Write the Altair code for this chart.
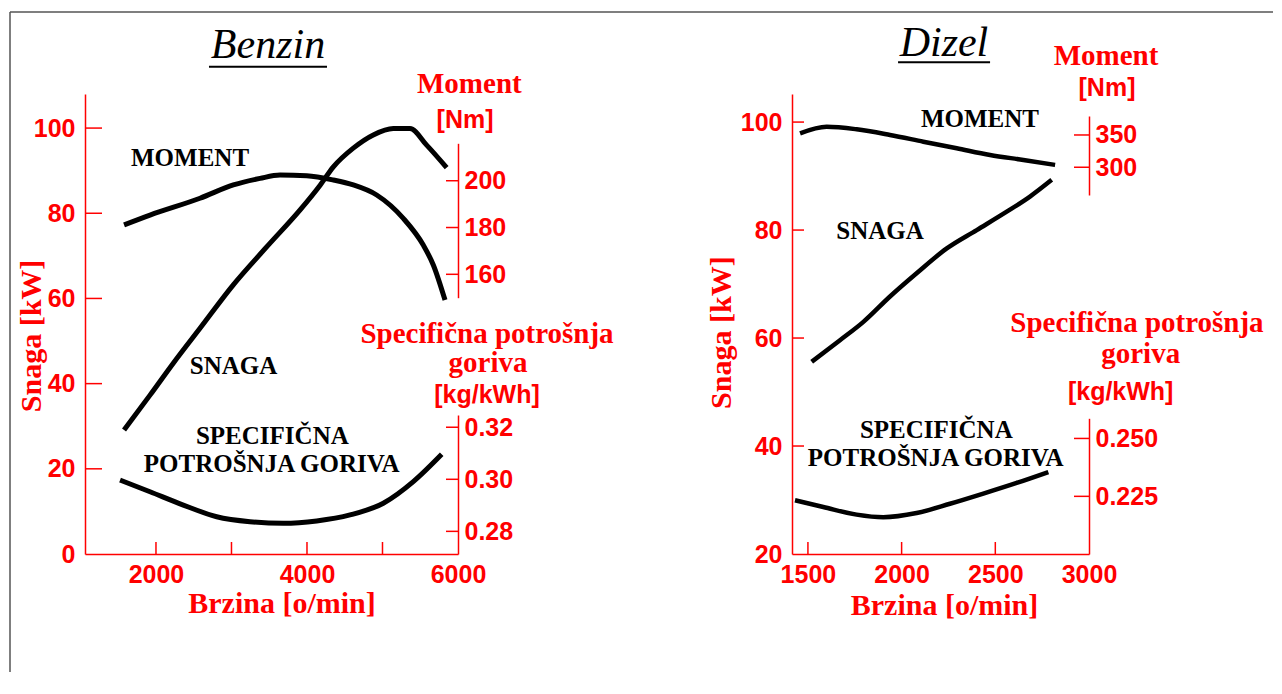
import altair as alt
import pandas as pd

# ======================= DATA =======================
# ---- Benzin (petrol engine) ----
b_snaga_rpm = [1577, 1921, 2229, 2583, 3024, 3466, 3909, 4174, 4349, 4613, 4878, 5143, 5364, 5585, 5850]
b_snaga_kw = [29.1, 37.3, 44.8, 53.0, 63.2, 72.1, 80.8, 86.6, 90.9, 95.3, 98.4, 99.9, 99.9, 96.0, 90.7]
b_moment_rpm = [1577, 1921, 2583, 3024, 3378, 3643, 3996, 4349, 4613, 4923, 5276, 5540, 5673, 5828]
b_moment_nm = [181.1, 185.3, 192.5, 198.2, 201.0, 202.4, 202.1, 200.3, 198.2, 193.9, 183.9, 172.5, 164.0, 149.0]
b_bsfc_rpm = [1524, 1921, 2362, 2804, 3245, 3686, 4129, 4570, 5011, 5408, 5784]
b_bsfc_val = [0.2997, 0.2952, 0.2901, 0.2856, 0.2837, 0.2831, 0.2840, 0.2863, 0.2908, 0.2991, 0.3096]

# ---- Dizel (diesel engine) ----
d_snaga_rpm = [1520, 1671, 1796, 1938, 2080, 2241, 2401, 2561, 2685, 2801]
d_snaga_kw = [55.6, 59.6, 63.0, 67.7, 72.0, 76.6, 80.0, 83.4, 86.2, 89.3]
d_moment_rpm = [1458, 1600, 1760, 1938, 2116, 2294, 2472, 2650, 2819]
d_moment_nm = [352.6, 362.8, 358.8, 350.0, 339.6, 329.4, 319.0, 311.3, 303.6]
d_bsfc_rpm = [1431, 1582, 1760, 1902, 2080, 2258, 2436, 2614, 2783]
d_bsfc_val = [0.2233, 0.2204, 0.2171, 0.2160, 0.2178, 0.2218, 0.2262, 0.2308, 0.2355]

# ---- axis tick values / labels ----
b_rpm_labels = [2000, 4000, 6000]
b_rpm_ticks = [2000, 3000, 4000, 5000]
b_kw_labels = [0, 20, 40, 60, 80, 100]
b_kw_ticks = [20, 40, 60, 80, 100]
b_nm_ticks = [160, 180, 200]
b_bsfc_ticks = [0.28, 0.30, 0.32]

d_rpm_labels = [1500, 2000, 2500, 3000]
d_rpm_ticks = [1500, 2000, 2500]
d_kw_labels = [20, 40, 60, 80, 100]
d_kw_ticks = [40, 60, 80, 100]
d_nm_ticks = [300, 350]
d_bsfc_ticks = [0.225, 0.250]

# ---- annotations (anchored in rpm / kW of each panel) ----
curve_names = ["MOMENT", "SNAGA", "SPECIFIČNA", "POTROŠNJA GORIVA"]
b_curve_rpm = [2451, 3027, 3541, 3533]
b_curve_kw = [91.2, 42.2, 25.8, 19.3]
d_curve_rpm = [2418, 1885, 2185, 2182]
d_curve_kw = [99.0, 78.3, 41.4, 36.3]

axis_heads = ["Moment", "Specifična potrošnja", "goriva"]
b_head_rpm = [6150, 6384, 6397]
b_head_kw = [108.2, 49.5, 42.7]
d_head_rpm = [3091, 3256, 3276]
d_head_kw = [110.6, 61.2, 55.3]

axis_units = ["[Nm]", "[kg/kWh]"]
b_unit_rpm = [6093, 6384]
b_unit_kw = [100.0, 35.5]
d_unit_rpm = [3096, 3169]
d_unit_kw = [104.8, 48.5]

x_title, y_title = "Brzina [o/min]", "Snaga [kW]"
b_xtitle_rpm, b_xtitle_kw = 3669, -13.85
b_ytitle_rpm, b_ytitle_kw = 361, 51.2
d_xtitle_rpm, d_xtitle_kw = 2229, 8.7
d_ytitle_rpm, d_ytitle_kw = 1041, 61.0

b_title, b_title_rpm, b_title_kw = "Benzin", 3484, 116.45
b_uline_rpm, b_uline_kw = [2702, 4265], 114.4
d_title, d_title_rpm, d_title_kw = "Dizel", 2226, 112.2
d_uline_rpm, d_uline_kw = [1981, 2472], 111.1

# ======================= STYLE =======================
RED = "#ff0000"
SERIF = "Liberation Serif"
SANS = "Liberation Sans"
W, H = 1004, 460


def sc(domain, rng):
    return alt.Scale(domain=domain, range=rng, zero=False, nice=False)


bx = sc([1060, 6000], [0, 373])
bs = sc([0, 108], [H, 0])
bm = sc([150, 216], [203.7, 49.3])
bf = sc([0.2713, 0.3247], [H, 321])
dx = sc([1415, 3000], [707, 1004])
ds = sc([20, 105.2], [H, 0])
dm = sc([257, 379.4], [101, 22])
dfs = sc([0.2001, 0.2587], [H, 324.3])

BASE = dict(labelColor=RED, labelFont=SANS, labelFontSize=25, labelFontWeight="bold",
            domain=True, domainColor=RED, domainWidth=1.5, domainOpacity=1,
            ticks=False, grid=False, labels=True,
            labelFlush=False, labelOverlap=False, title="")


def xaxis(values):
    return alt.Axis(orient="bottom", values=values, format="d", labelPadding=8, **BASE)


def saxis(values, offset):
    return alt.Axis(orient="left", values=values, format="d", labelPadding=10, offset=offset, **BASE)


def raxis(values, fmt, offset):
    return alt.Axis(orient="right", values=values, format=fmt, labelPadding=6, offset=offset, **BASE)


def line(xs, ys, sx, sy, width, ax_x=None, ax_y=None):
    data = pd.DataFrame({"rpm": xs, "v": ys})
    return alt.Chart(data).mark_line(color="black", strokeWidth=width, strokeJoin="round",
                                     interpolate="monotone").encode(
        x=alt.X("rpm:Q", scale=sx, axis=ax_x),
        y=alt.Y("v:Q", scale=sy, axis=ax_y),
    )


def ticks(xs, ys, sx, sy, orient, size, xoff=0, yoff=0):
    data = pd.DataFrame({"rpm": xs, "v": ys})
    return alt.Chart(data).mark_tick(orient=orient, size=size, thickness=1.5, color=RED,
                                     xOffset=xoff, yOffset=yoff, opacity=1).encode(
        x=alt.X("rpm:Q", scale=sx, axis=None),
        y=alt.Y("v:Q", scale=sy, axis=None),
    )


def texts(labels, xs, ys, sx, sy, font, size, color, weight="bold", style="normal",
          angle=0, baseline="alphabetic"):
    data = pd.DataFrame({"label": labels, "rpm": xs, "v": ys})
    return alt.Chart(data).mark_text(font=font, fontSize=size, fontWeight=weight, fontStyle=style,
                                     color=color, align="center", baseline=baseline,
                                     angle=angle).encode(
        x=alt.X("rpm:Q", scale=sx, axis=None),
        y=alt.Y("v:Q", scale=sy, axis=None),
        text="label:N",
    )


def underline(xs, yv, sx, sy):
    data = pd.DataFrame({"x0": [xs[0]], "x1": [xs[1]], "v": [yv]})
    return alt.Chart(data).mark_rule(color="black", strokeWidth=2).encode(
        x=alt.X("x0:Q", scale=sx, axis=None), x2="x1:Q",
        y=alt.Y("v:Q", scale=sy, axis=None),
    )


def panel(sx, ss, sm, sf, snaga, moment, bsfc, rpm_labels, rpm_ticks, kw_labels, kw_ticks,
          nm_ticks, bsfc_ticks, bsfc_fmt, left_off, right_off, lt_len, rt_len, lw,
          curve, head, unit, xt, yt, title, uline):
    xmin, xmax = sx.domain[0], sx.domain[1]
    ymin = ss.domain[0]
    return [
        line(snaga[0], snaga[1], sx, ss, lw, xaxis(rpm_labels), saxis(kw_labels, left_off)),
        line(moment[0], moment[1], sx, sm, lw, None, raxis(nm_ticks, "d", right_off)),
        line(bsfc[0], bsfc[1], sx, sf, lw, None, raxis(bsfc_ticks, bsfc_fmt, right_off)),
        ticks([xmin] * len(kw_ticks), kw_ticks, sx, ss, "horizontal", lt_len, xoff=lt_len / 2),
        ticks(rpm_ticks, [ymin] * len(rpm_ticks), sx, ss, "vertical", 12, yoff=-6),
        ticks([xmax] * len(nm_ticks), nm_ticks, sx, sm, "horizontal", rt_len, xoff=-rt_len / 2),
        ticks([xmax] * len(bsfc_ticks), bsfc_ticks, sx, sf, "horizontal", rt_len, xoff=-rt_len / 2),
        texts(curve_names, curve[0], curve[1], sx, ss, SERIF, 25, "black"),
        texts(axis_heads, head[0], head[1], sx, ss, SERIF, 29, RED),
        texts(axis_units, unit[0], unit[1], sx, ss, SANS, 25, RED),
        texts([x_title], [xt[0]], [xt[1]], sx, ss, SERIF, 30, RED),
        texts([y_title], [yt[0]], [yt[1]], sx, ss, SERIF, 30, RED, angle=270, baseline="middle"),
        texts([title[0]], [title[1]], [title[2]], sx, ss, SERIF, 42, "black", weight="normal", style="italic"),
        underline(uline[0], uline[1], sx, ss),
    ]


benzin = panel(bx, bs, bm, bf,
               (b_snaga_rpm, b_snaga_kw), (b_moment_rpm, b_moment_nm), (b_bsfc_rpm, b_bsfc_val),
               b_rpm_labels, b_rpm_ticks, b_kw_labels, b_kw_ticks, b_nm_ticks, b_bsfc_ticks, ".2f",
               0, 373 - W, 17, 12, 5,
               (b_curve_rpm, b_curve_kw), (b_head_rpm, b_head_kw), (b_unit_rpm, b_unit_kw),
               (b_xtitle_rpm, b_xtitle_kw), (b_ytitle_rpm, b_ytitle_kw),
               (b_title, b_title_rpm, b_title_kw), (b_uline_rpm, b_uline_kw))

dizel = panel(dx, ds, dm, dfs,
              (d_snaga_rpm, d_snaga_kw), (d_moment_rpm, d_moment_nm), (d_bsfc_rpm, d_bsfc_val),
              d_rpm_labels, d_rpm_ticks, d_kw_labels, d_kw_ticks, d_nm_ticks, d_bsfc_ticks, ".3f",
              -707, 0, 12, 15, 4.5,
              (d_curve_rpm, d_curve_kw), (d_head_rpm, d_head_kw), (d_unit_rpm, d_unit_kw),
              (d_xtitle_rpm, d_xtitle_kw), (d_ytitle_rpm, d_ytitle_kw),
              (d_title, d_title_rpm, d_title_kw), (d_uline_rpm, d_uline_kw))

# picture frame (decoration only)
frame_src = alt.Data(values=[{}])
frame = [
    alt.Chart(frame_src).mark_rule(color="#555555", strokeWidth=1.5).encode(
        x=alt.value(-75), y=alt.value(-82), y2=alt.value(578)),
    alt.Chart(frame_src).mark_rule(color="#555555", strokeWidth=1.5).encode(
        x=alt.value(-75), x2=alt.value(1188), y=alt.value(-82)),
]

chart = alt.layer(*benzin, *dizel, *frame).resolve_scale(
    x="independent", y="independent"
).properties(
    width=W, height=H,
    padding={"left": 1, "top": 3, "right": 0, "bottom": 0},
    background="white",
).configure_view(stroke=None)

chart.save("out.html", embed_options={"renderer": "svg", "actions": False})
